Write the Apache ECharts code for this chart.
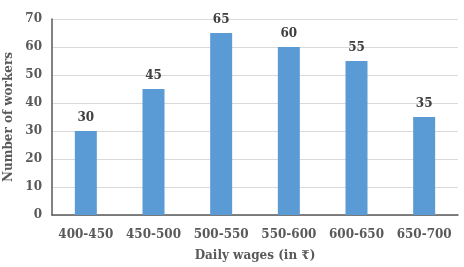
<!DOCTYPE html>
<html><head><meta charset="utf-8">
<script src="https://cdn.jsdelivr.net/npm/echarts@6/dist/echarts.min.js"></script>
<style>html,body{margin:0;padding:0;background:#fff}#c{width:464px;height:267px}</style>
</head><body><div id="c"></div>
<script>
const categories = ["400-450","450-500","500-550","550-600","600-650","650-700"];
const workers = [30,45,65,60,55,35];
const yTicks = [0,10,20,30,40,50,60,70];
const font = "DejaVu Serif";
const chart = echarts.init(document.getElementById('c'));
chart.setOption({
  animation:false,
  grid:{left:52,right:6,top:19,bottom:52,containLabel:false,outerBoundsMode:'none'},
  xAxis:{type:'category',data:categories,
    name:'Daily wages (in ₹)',nameLocation:'middle',nameGap:35,
    nameTextStyle:{fontFamily:font,fontWeight:'bold',fontSize:12,color:'#595959'},
    axisLine:{lineStyle:{color:'#595959',width:1.5}},axisTick:{show:false},
    axisLabel:{interval:0,hideOverlap:false,fontFamily:font,fontWeight:'bold',fontSize:12,color:'#595959',margin:14}},
  yAxis:{type:'value',min:yTicks[0],max:yTicks[yTicks.length-1],interval:10,
    name:'Number of workers',nameLocation:'middle',nameGap:34,
    nameTextStyle:{fontFamily:font,fontWeight:'bold',fontSize:12,color:'#595959'},
    axisLine:{show:true,lineStyle:{color:'#595959',width:1.5}},axisTick:{show:false},
    splitLine:{lineStyle:{color:'#d9d9d9'}},
    axisLabel:{fontFamily:font,fontWeight:'bold',fontSize:12,color:'#595959',margin:10}},
  series:[{type:'bar',data:workers,barWidth:22,
    itemStyle:{color:'#5b9bd5'},
    label:{show:true,position:'top',distance:7,fontFamily:font,fontWeight:'bold',fontSize:12,color:'#404040'}}]
});
</script></body></html>
